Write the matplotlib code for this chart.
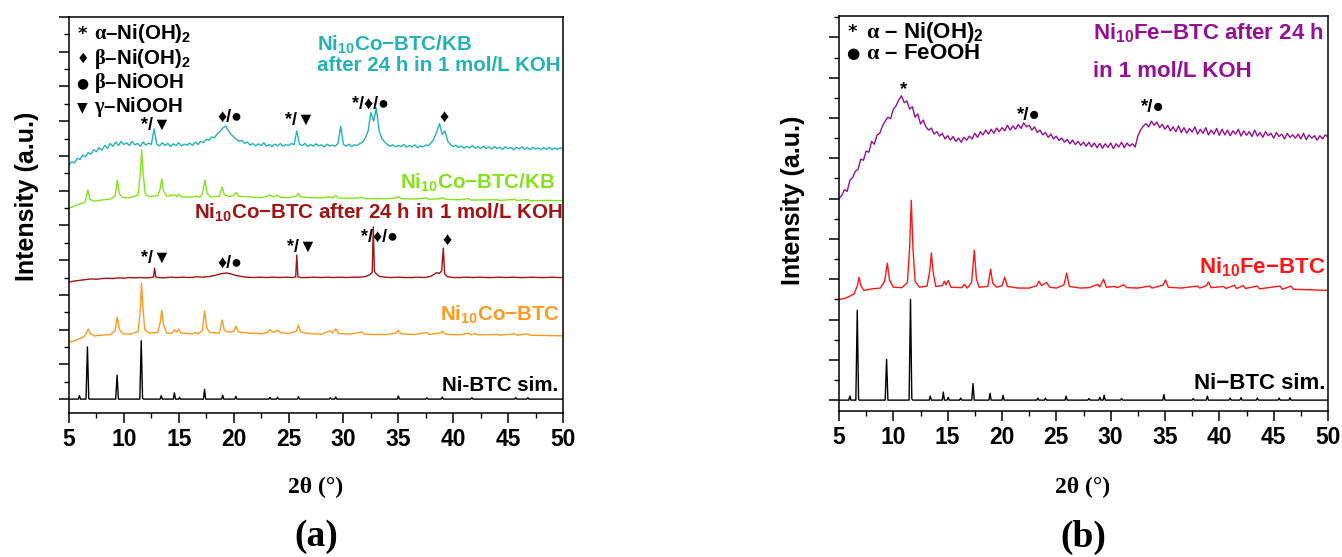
import numpy as np
import matplotlib
matplotlib.use("Agg")
import matplotlib.pyplot as plt
from matplotlib.ticker import MultipleLocator

plt.rcParams['font.family'] = ['Liberation Sans', 'DejaVu Sans']
plt.rcParams['font.weight'] = 'bold'
plt.rcParams['mathtext.fontset'] = 'custom'
plt.rcParams['mathtext.rm'] = 'Liberation Sans:bold'
plt.rcParams['mathtext.it'] = 'Liberation Sans:bold'
plt.rcParams['mathtext.bf'] = 'Liberation Sans:bold'
plt.rcParams['mathtext.tt'] = 'Liberation Serif'
plt.rcParams['mathtext.default'] = 'rm'

# ---------------- data: panel (a) ----------------
black_a = [(5.0,0),(5.85,0),(5.95,0.1),(6.05,0),(6.55,0),(6.68,1.5),(6.8,0.02),(6.85,0),
           (9.25,0),(9.38,0.69),(9.5,0),(11.45,0),(11.58,1.68),(11.7,0.02),(11.8,0),
           (13.3,0),(13.4,0.1),(13.5,0),(14.5,0),(14.6,0.18),(14.7,0),(15.0,0),(15.08,0.05),(15.16,0),
           (17.25,0),(17.35,0.28),(17.45,0),(18.9,0),(19.0,0.11),(19.1,0),(20.1,0),(20.2,0.08),(20.3,0),
           (23.2,0),(23.3,0.05),(23.4,0),(23.9,0),(24.0,0.05),(24.1,0),(25.8,0),(25.9,0.07),(26.0,0),
           (28.7,0),(28.8,0.04),(28.9,0),(29.2,0),(29.3,0.06),(29.4,0),(34.9,0),(35.0,0.09),(35.1,0),
           (37.5,0),(37.6,0.04),(37.7,0),(38.9,0),(39.0,0.06),(39.1,0),(41.6,0),(41.7,0.04),(41.8,0),
           (45.6,0),(45.7,0.04),(45.8,0),(46.7,0),(46.8,0.04),(46.9,0),(50.0,0)]

orange_a = [(5.0,1.64),(5.5,1.68),(6.0,1.74),(6.4,1.8),(6.6,1.92),(6.75,2.02),(6.95,1.88),(7.3,1.82),
            (8.0,1.84),(8.8,1.86),(9.2,1.98),(9.4,2.36),(9.6,2.0),(9.9,1.88),(10.6,1.87),(11.3,1.95),
            (11.5,2.6),(11.6,3.33),(11.72,2.7),(11.9,2.0),(12.3,1.9),(13.1,1.92),(13.3,2.2),(13.45,2.56),
            (13.6,2.15),(13.9,1.9),(14.4,1.9),(14.6,2.0),(14.8,1.93),(15.0,2.02),(15.2,1.9),(16.2,1.88),
            (16.5,1.92),(16.8,1.88),(17.15,1.98),(17.35,2.54),(17.55,2.05),(17.8,1.92),(18.7,1.9),
            (18.95,2.28),(19.15,1.98),(19.5,1.93),(20.0,1.95),(20.2,2.1),(20.45,1.93),(21.5,1.9),
            (22.5,1.88),(23.1,1.92),(23.3,2.0),(23.6,1.92),(24.0,1.98),(24.3,1.91),(25.0,1.89),
            (25.7,1.95),(25.9,2.13),(26.1,1.93),(27.0,1.88),(28.0,1.87),(28.8,1.97),(29.0,1.9),
            (29.3,2.02),(29.55,1.89),(30.5,1.87),(31.7,1.93),(31.9,1.87),(33.0,1.86),(34.0,1.86),
            (34.8,1.9),(35.0,1.98),(35.25,1.88),(36.5,1.86),(37.6,1.92),(37.8,1.86),(38.8,1.9),
            (39.0,1.95),(39.3,1.87),(40.5,1.85),(41.4,1.9),(41.6,1.85),(42.0,1.89),(42.2,1.85),
            (44.0,1.86),(44.2,1.84),(45.6,1.88),(45.8,1.84),(46.8,1.88),(47.0,1.84),(48.5,1.83),(50.0,1.82)]

darkred_a = [(5.0,3.37),(5.5,3.4),(6.0,3.42),(6.5,3.44),(7.0,3.46),(7.5,3.45),(8.0,3.47),(8.5,3.48),
             (9.0,3.47),(9.5,3.49),(10.0,3.48),(10.5,3.5),(11.0,3.49),(11.5,3.5),(12.0,3.49),(12.5,3.5),
             (12.7,3.52),(12.8,3.77),(12.9,3.52),(13.1,3.5),(13.6,3.49),(14.2,3.51),(14.8,3.5),(15.4,3.51),
             (16.0,3.5),(16.6,3.52),(17.2,3.51),(17.8,3.53),(18.3,3.56),(18.7,3.6),(19.1,3.62),(19.4,3.63),
             (19.8,3.6),(20.2,3.56),(20.7,3.53),(21.2,3.51),(21.8,3.5),(22.4,3.51),(23.0,3.5),(23.6,3.51),
             (24.2,3.5),(24.8,3.51),(25.4,3.5),(25.65,3.52),(25.75,4.15),(25.85,3.52),(26.1,3.5),
             (26.7,3.5),(27.3,3.51),(27.9,3.5),(28.5,3.51),(29.1,3.5),(29.7,3.51),(30.3,3.5),(30.9,3.51),
             (31.5,3.51),(32.0,3.53),(32.4,3.58),(32.62,3.65),(32.72,4.96),(32.82,3.68),(33.0,3.6),
             (33.3,3.53),(33.8,3.51),(34.4,3.5),(35.0,3.51),(35.6,3.5),(36.2,3.5),(36.8,3.51),(37.4,3.5),
             (37.9,3.53),(38.2,3.58),(38.5,3.64),(38.75,3.62),(38.95,3.7),(39.1,4.35),(39.22,3.6),
             (39.5,3.52),(40.0,3.5),(40.6,3.5),(41.2,3.51),(41.8,3.5),(42.4,3.51),(43.0,3.5),(43.6,3.5),
             (44.2,3.51),(44.8,3.5),(45.4,3.51),(46.0,3.5),(46.6,3.5),(47.2,3.51),(47.8,3.5),(48.4,3.5),
             (49.0,3.51),(49.6,3.5),(50.0,3.5)]

green_a = [(5.0,5.49),(5.5,5.56),(6.0,5.62),(6.45,5.66),(6.6,5.85),(6.72,6.02),(6.9,5.75),(7.3,5.7),
           (8.0,5.73),(8.8,5.76),(9.2,5.85),(9.4,6.31),(9.6,5.9),(9.9,5.8),(10.6,5.8),(11.3,5.88),
           (11.5,6.5),(11.62,7.18),(11.75,6.5),(11.95,5.9),(12.3,5.83),(13.1,5.86),(13.3,6.05),
           (13.45,6.34),(13.6,6.0),(13.9,5.84),(14.6,5.88),(14.8,5.83),(15.0,5.9),(15.2,5.82),
           (16.3,5.82),(16.6,5.85),(16.9,5.81),(17.15,5.9),(17.38,6.31),(17.58,5.92),(17.9,5.82),
           (18.7,5.84),(18.95,6.11),(19.15,5.88),(19.6,5.83),(20.0,5.86),(20.2,5.95),(20.45,5.84),
           (21.5,5.82),(22.5,5.8),(23.1,5.84),(23.3,5.88),(23.55,5.82),(24.0,5.87),(24.3,5.81),
           (25.0,5.8),(25.7,5.84),(25.9,5.92),(26.1,5.82),(27.0,5.8),(28.0,5.79),(28.8,5.83),
           (29.0,5.79),(29.3,5.86),(29.55,5.79),(30.5,5.78),(31.7,5.8),(31.9,5.77),(33.0,5.77),
           (34.0,5.77),(34.8,5.79),(35.0,5.84),(35.25,5.77),(36.5,5.76),(37.6,5.79),(37.8,5.75),
           (38.8,5.77),(39.0,5.8),(39.3,5.75),(40.5,5.74),(41.4,5.77),(41.6,5.73),(44.0,5.74),
           (44.2,5.72),(45.6,5.75),(45.8,5.72),(46.8,5.74),(47.0,5.71),(48.5,5.72),(50.0,5.71)]

# teal: sampled every 0.25 deg from 5 to 50 (rows = one degree each)
teal_a_y = [
    6.74, 6.83, 6.80, 6.93,  6.90, 7.02, 6.98, 7.10,  7.05, 7.18, 7.12, 7.24,  # 5-7
    7.17, 7.30, 7.22, 7.36,  7.28, 7.40, 7.30, 7.42,  7.33, 7.38, 7.30, 7.42,  # 8-10
    7.32, 7.36, 7.28, 7.40,  7.31, 7.37, 7.33, 7.78,  7.34, 7.29, 7.38, 7.30,  # 11-13
    7.36, 7.27, 7.35, 7.30,  7.38, 7.29, 7.34, 7.31,  7.37, 7.30, 7.40, 7.33,  # 14-16
    7.42, 7.38, 7.48, 7.45,  7.55, 7.52, 7.64, 7.70,  7.80, 7.86, 7.74, 7.62,  # 17-19
    7.55, 7.48, 7.42, 7.45,  7.36, 7.40, 7.31, 7.36,  7.29, 7.35, 7.30, 7.38,  # 20-22
    7.28, 7.33, 7.27, 7.34,  7.29, 7.36, 7.28, 7.33,  7.30, 7.36, 7.32, 7.72,  # 23-25
    7.34, 7.30, 7.36, 7.27,  7.33, 7.28, 7.35, 7.29,  7.32, 7.26, 7.34, 7.29,  # 26-28
    7.31, 7.28, 7.36, 7.86,  7.33, 7.28, 7.34, 7.27,  7.32, 7.30, 7.36, 7.40,  # 29-31
    7.52, 7.72, 8.25, 8.00,  8.38, 7.72, 7.50, 7.40,  7.33, 7.28, 7.32, 7.26,  # 32-34
    7.30, 7.27, 7.33, 7.25,  7.30, 7.26, 7.32, 7.24,  7.29, 7.26, 7.31, 7.30,  # 35-37
    7.38, 7.50, 7.70, 7.93,  7.62, 7.72, 7.42, 7.33,  7.27, 7.31, 7.24, 7.29,  # 38-40
    7.22, 7.28, 7.23, 7.30,  7.22, 7.27, 7.21, 7.28,  7.22, 7.26, 7.20, 7.27,  # 41-43
    7.21, 7.25, 7.19, 7.26,  7.21, 7.24, 7.18, 7.25,  7.20, 7.26, 7.19, 7.24,  # 44-46
    7.18, 7.25, 7.20, 7.23,  7.18, 7.24, 7.19, 7.25,  7.18, 7.23, 7.19, 7.24,  # 47-49
    7.20]                                                                      # 50

# ---------------- data: panel (b) ----------------
black_b = [(5.0,0),(5.9,0),(6.0,0.1),(6.1,0),(6.55,0),(6.68,2.23),(6.8,0.03),(6.85,0),(9.25,0),
           (9.38,1.01),(9.5,0),(11.45,0),(11.58,2.5),(11.7,0.03),(11.8,0),(13.3,0),(13.4,0.1),(13.5,0),
           (14.5,0),(14.6,0.2),(14.7,0),(14.95,0),(15.05,0.07),(15.15,0),(16.1,0),(16.2,0.05),(16.3,0),
           (17.22,0),(17.33,0.41),(17.45,0),(18.8,0),(18.9,0.17),(19.0,0),(20.0,0),(20.1,0.12),(20.2,0),
           (23.2,0),(23.3,0.05),(23.4,0),(23.9,0),(24.0,0.05),(24.1,0),(25.8,0),(25.9,0.1),(26.0,0),
           (27.9,0),(28.0,0.04),(28.1,0),(28.9,0),(29.0,0.07),(29.1,0),(29.3,0),(29.4,0.12),(29.5,0),
           (30.9,0),(31.0,0.04),(31.1,0),(34.8,0),(34.9,0.14),(35.0,0),(37.5,0),(37.6,0.04),(37.7,0),
           (38.8,0),(38.9,0.1),(39.0,0),(40.9,0),(41.0,0.05),(41.1,0),(41.9,0),(42.0,0.06),(42.1,0),
           (43.4,0),(43.5,0.05),(43.6,0),(45.4,0),(45.5,0.05),(45.6,0),(46.4,0),(46.5,0.06),(46.6,0),(50.0,0)]

red_b = [(5.0,2.5),(5.5,2.52),(6.0,2.58),(6.4,2.64),(6.7,2.85),(6.85,3.05),(7.0,2.85),(7.3,2.72),
         (8.0,2.76),(8.8,2.78),(9.2,2.95),(9.45,3.4),(9.65,2.98),(10.0,2.8),(10.8,2.79),(11.3,2.92),
         (11.5,3.8),(11.65,4.96),(11.8,3.8),(12.0,2.95),(12.4,2.8),(13.1,2.83),(13.35,3.2),(13.5,3.65),
         (13.65,3.2),(13.9,2.82),(14.5,2.84),(14.7,2.95),(14.85,2.86),(15.05,2.97),(15.3,2.8),
         (16.3,2.79),(16.55,2.87),(16.8,2.78),(17.2,2.92),(17.45,3.72),(17.65,3.0),(17.9,2.8),
         (18.7,2.82),(18.95,3.25),(19.15,2.9),(19.5,2.8),(20.0,2.84),(20.25,3.05),(20.5,2.82),
         (21.5,2.78),(22.5,2.78),(23.2,2.84),(23.4,2.95),(23.65,2.84),(24.1,2.92),(24.4,2.8),
         (25.0,2.78),(25.7,2.86),(25.95,3.15),(26.2,2.82),(27.2,2.78),(28.0,2.79),(28.8,2.87),
         (29.0,2.81),(29.35,3.0),(29.6,2.8),(30.4,2.82),(30.6,2.79),(31.2,2.86),(31.5,2.79),
         (32.5,2.78),(33.6,2.83),(33.8,2.78),(34.8,2.85),(35.05,2.98),(35.3,2.8),(36.5,2.78),
         (38.0,2.83),(38.2,2.78),(38.8,2.84),(39.0,2.93),(39.25,2.79),(40.4,2.82),(40.6,2.77),
         (41.4,2.85),(41.6,2.77),(42.2,2.84),(42.4,2.77),(43.5,2.83),(43.7,2.76),(45.6,2.83),
         (45.8,2.75),(46.6,2.83),(46.8,2.75),(48.0,2.74),(50.0,2.72)]

# purple: sampled every 0.25 deg from 5 to 50
purple_b_y = [
    5.00, 5.08, 5.22, 5.18,  5.45, 5.52, 5.68, 5.72,  5.98, 5.95, 6.18, 6.15,  # 5-7
    6.42, 6.35, 6.58, 6.62,  6.80, 6.92, 7.02, 6.98,  7.22, 7.30, 7.45, 7.55,  # 8-10
    7.38, 7.42, 7.22, 7.28,  7.02, 7.10, 6.85, 6.95,  6.78, 6.70, 6.75, 6.60,  # 11-13
    6.66, 6.55, 6.62, 6.48,  6.56, 6.45, 6.54, 6.42,  6.50, 6.40, 6.52, 6.45,  # 14-16
    6.55, 6.48, 6.62, 6.52,  6.66, 6.58, 6.70, 6.60,  6.72, 6.62, 6.75, 6.66,  # 17-19
    6.76, 6.68, 6.82, 6.70,  6.80, 6.72, 6.84, 6.74,  6.88, 6.78, 6.82, 6.70,  # 20-22
    6.78, 6.64, 6.70, 6.58,  6.64, 6.52, 6.60, 6.48,  6.55, 6.44, 6.50, 6.40,  # 23-25
    6.47, 6.36, 6.45, 6.34,  6.42, 6.32, 6.40, 6.30,  6.40, 6.28, 6.38, 6.26,  # 26-28
    6.37, 6.25, 6.36, 6.27,  6.38, 6.24, 6.36, 6.28,  6.40, 6.26, 6.38, 6.30,  # 29-31
    6.36, 6.28, 6.55, 6.70,  6.80, 6.86, 6.78, 6.92,  6.82, 6.90, 6.76, 6.84,  # 32-34
    6.72, 6.82, 6.68, 6.78,  6.66, 6.80, 6.64, 6.76,  6.62, 6.74, 6.65, 6.78,  # 35-37
    6.60, 6.72, 6.62, 6.76,  6.58, 6.70, 6.60, 6.74,  6.57, 6.72, 6.58, 6.70,  # 38-40
    6.56, 6.68, 6.60, 6.72,  6.55, 6.68, 6.57, 6.66,  6.54, 6.70, 6.55, 6.64,  # 41-43
    6.52, 6.66, 6.56, 6.62,  6.50, 6.64, 6.54, 6.60,  6.48, 6.62, 6.52, 6.58,  # 44-46
    6.50, 6.60, 6.48, 6.62,  6.46, 6.58, 6.50, 6.56,  6.45, 6.56, 6.48, 6.58,  # 47-49
    6.53]                                                                      # 50

x_ticks = [5, 10, 15, 20, 25, 30, 35, 40, 45, 50]

C_TEAL = '#22b3b8'
C_GREEN = '#84e21c'
C_DRED = '#a11414'
C_ORANGE = '#ff9a1e'
C_PURPLE = '#950f95'
C_RED = '#ff1515'

W, H = 1342, 557
fig = plt.figure(figsize=(W / 100, H / 100), dpi=100)
ax_a = fig.add_axes([69 / W, (H - 413) / H, 494 / W, 396 / H])
ax_b = fig.add_axes([839 / W, (H - 411) / H, 489 / W, 395 / H])


def xy(pairs):
    return [p[0] for p in pairs], [p[1] for p in pairs]


def grid_x(ys):
    return 5.0 + 0.25 * np.arange(len(ys))


lw = 1.0
ax_a.plot(*xy(black_a), color='black', lw=lw)
ax_a.plot(*xy(orange_a), color=C_ORANGE, lw=lw)
ax_a.plot(*xy(darkred_a), color=C_DRED, lw=lw)
ax_a.plot(*xy(green_a), color=C_GREEN, lw=lw)
ax_a.plot(grid_x(teal_a_y), teal_a_y, color=C_TEAL, lw=lw)

ax_b.plot(*xy(black_b), color='black', lw=lw)
ax_b.plot(*xy(red_b), color=C_RED, lw=lw)
ax_b.plot(grid_x(purple_b_y), purple_b_y, color=C_PURPLE, lw=lw)

ax_a.set_ylim(-0.40, 11.0)
ax_b.set_ylim(-0.27, 9.53)

for ax in (ax_a, ax_b):
    ax.set_xlim(5, 50)
    ax.set_xticks(x_ticks)
    ax.xaxis.set_minor_locator(MultipleLocator(2.5))
    ax.yaxis.set_major_locator(MultipleLocator(1))
    ax.yaxis.set_minor_locator(MultipleLocator(0.5))
    ax.tick_params(which='major', direction='out', length=7, width=1.1,
                   labelsize=16.5, pad=4, top=False, right=False)
    ax.tick_params(which='minor', direction='out', length=3.5, width=1.0,
                   top=False, right=False)
    ax.tick_params(axis='y', which='both', labelleft=False)
    for lab in ax.get_xticklabels():
        lab.set_fontweight('bold')
    for s in ax.spines.values():
        s.set_linewidth(1.1)

fs_a = 14.8
fs_b = 16
sym_family = ['DejaVu Sans']

# panel (a) legend
leg_a_sym = ['*', '\u2666', '\u25cf', '\u25bc']
leg_a_txt = [r'$\mathtt{α}$–Ni(OH)$_2$', r'$\mathtt{β}$–Ni(OH)$_2$',
             r'$\mathtt{β}$–NiOOH', r'$\mathtt{γ}$–NiOOH']
leg_a_y = [10.52, 9.8, 9.1, 8.41]
for s, t, y in zip(leg_a_sym, leg_a_txt, leg_a_y):
    ax_a.text(6.25, y, s, ha='center', va='center', fontsize=10 if s != '*' else 13,
              family=sym_family, fontweight='bold')
    ax_a.text(7.3, y, t, ha='left', va='center', fontsize=fs_a)

ax_a.text(27.6, 10.2, r'Ni$_{10}$Co−BTC/KB', color=C_TEAL, fontsize=fs_a, ha='left', va='center')
ax_a.text(27.6, 9.6, 'after 24 h in 1 mol/L KOH', color=C_TEAL, fontsize=fs_a, ha='left', va='center')
ax_a.text(49.3, 6.22, r'Ni$_{10}$Co−BTC/KB', color=C_GREEN, fontsize=fs_a, ha='right', va='center')
ax_a.text(49.95, 5.36, r'Ni$_{10}$Co−BTC after 24 h in 1 mol/L KOH', color=C_DRED,
          fontsize=fs_a, ha='right', va='center')
ax_a.text(49.7, 2.42, r'Ni$_{10}$Co−BTC', color=C_ORANGE, fontsize=fs_a, ha='right', va='center')
ax_a.text(49.6, 0.40, 'Ni-BTC sim.', color='black', fontsize=fs_a, ha='right', va='center')

ann_fam = ['Liberation Sans', 'DejaVu Sans']
ann_a = [('*/\u25bc', 12.9, 7.87), ('\u2666/\u25cf', 19.7, 8.1), ('*/\u25bc', 26.0, 8.04),
         ('*/\u2666/\u25cf', 32.5, 8.5), ('\u2666', 39.2, 8.1),
         ('*/\u25bc', 12.9, 4.06), ('\u2666/\u25cf', 19.7, 3.92), ('*/\u25bc', 26.2, 4.38),
         ('*/\u2666/\u25cf', 33.3, 4.67), ('\u2666', 39.4, 4.58)]
for t, x, y in ann_a:
    ax_a.text(x, y, t, ha='center', va='center', fontsize=13, family=ann_fam, fontweight='bold')

# panel (b) legend
ax_b.text(6.25, 9.13, '*', ha='center', va='center', fontsize=13, family=sym_family, fontweight='bold')
ax_b.text(6.25, 8.61, '\u25cf', ha='center', va='center', fontsize=11, family=sym_family)
ax_b.text(7.45, 9.13, r'$\mathtt{α}$ – Ni(OH)$_2$', ha='left', va='center', fontsize=fs_b)
ax_b.text(7.45, 8.61, r'$\mathtt{α}$ – FeOOH', ha='left', va='center', fontsize=fs_b)

ax_b.text(28.4, 9.1, r'Ni$_{10}$Fe−BTC after 24 h', color=C_PURPLE, fontsize=fs_b, ha='left', va='center')
ax_b.text(28.4, 8.15, 'in 1 mol/L KOH', color=C_PURPLE, fontsize=fs_b, ha='left', va='center')
ax_b.text(49.8, 3.3, r'Ni$_{10}$Fe−BTC', color=C_RED, fontsize=fs_b, ha='right', va='center')
ax_b.text(49.8, 0.41, 'Ni−BTC sim.', color='black', fontsize=fs_b, ha='right', va='center')

ann_b = [('*', 10.9, 7.7), ('*/\u25cf', 22.5, 7.07), ('*/\u25cf', 33.9, 7.27)]
for t, x, y in ann_b:
    ax_b.text(x, y, t, ha='center', va='center', fontsize=13.5, family=ann_fam, fontweight='bold')

# axis labels and panel letters
fig.text(27 / W, (H - 196) / H, 'Intensity (a.u.)', rotation=90, ha='center', va='center',
         fontsize=18, fontweight='bold')
fig.text(793 / W, (H - 200) / H, 'Intensity (a.u.)', rotation=90, ha='center', va='center',
         fontsize=18, fontweight='bold')
for cx, letter in ((316, '(a)'), (1083, '(b)')):
    fig.text(cx / W, (H - 487) / H, '2θ (°)', ha='center', va='center', fontsize=17,
             family='Liberation Serif', fontweight='bold')
    fig.text(cx / W, (H - 537) / H, letter, ha='center', va='center', fontsize=27,
             family='Liberation Serif', fontweight='bold')

fig.savefig('out.png', dpi=100)
